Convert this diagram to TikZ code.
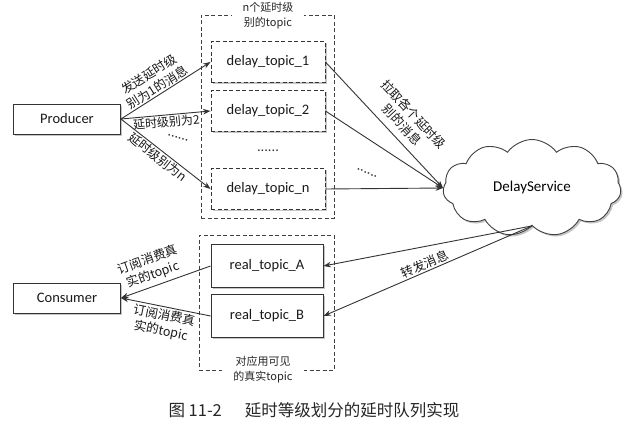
\documentclass[tikz,border=0pt]{standalone}
\usepackage{fontspec}
\setmainfont{Carlito}
\newfontfamily\cjk{Noto Sans CJK SC}
\usetikzlibrary{arrows.meta,shapes.symbols,shadows}

\tikzstyle{plainbox}   = [rectangle, draw=black!80, line width=0.9pt, fill=white, text=black!90, font=\fontsize{14.5}{16}\selectfont, drop shadow={shadow xshift=1.8pt, shadow yshift=-1.8pt, opacity=0.45}]
\tikzstyle{clientbox}  = [plainbox, minimum width=107pt, minimum height=30pt]
\tikzstyle{delaytopic} = [plainbox, dash pattern=on 4pt off 2.5pt, minimum width=114pt, minimum height=41pt]
\tikzstyle{realtopic}  = [plainbox, minimum width=112pt, minimum height=43pt]
\tikzstyle{topicgroup} = [rectangle, draw=black!75, line width=0.8pt, dash pattern=on 4pt off 2.5pt]
\tikzstyle{grouptitle} = [fill=white, align=center, inner xsep=11pt, inner ysep=1pt, text=black!85, font=\cjk\fontsize{11}{15}\selectfont]
\tikzstyle{msglabel}   = [sloped, align=center, inner sep=1pt, text=black!90, font=\cjk\fontsize{12.5}{15.5}\selectfont]
\tikzstyle{dotsmark}   = [inner sep=0pt, text=black!80, font=\fontsize{14.5}{16}\selectfont]
\tikzstyle{service}    = [cloud, cloud puffs=11, cloud puff arc=110, aspect=1.9, minimum width=178pt, minimum height=97pt, draw=black!75, line width=0.9pt, fill=white, font=\fontsize{15}{17}\selectfont, drop shadow={shadow xshift=1.8pt, shadow yshift=-1.8pt, opacity=0.45}]
\tikzstyle{link}       = [draw=black!80, line width=0.9pt, ->]

\begin{document}
\begin{tikzpicture}[x=1pt, y=1pt, node distance=49pt, >={Stealth[length=7.5pt,width=5.5pt]}]
        \useasboundingbox[fill=white] (0,0) rectangle (642,-425);
        \node (delaygroup) [topicgroup, minimum width=133pt, minimum height=203pt] at (267.5,-116.5) {};
        \node (realgroup)  [topicgroup, minimum width=135pt, minimum height=135pt] at (266.5,-302.5) {};
        \node (delaytitle) [grouptitle] at (268,-16)                        {n个延时级\\别的topic};
        \node (realtitle)  [grouptitle] at (263,-370)                       {对应用可见\\的真实topic};
        \node (producer)   [clientbox] at (67,-119)                         {Producer};
        \node (consumer)   [clientbox, below of=producer, node distance=179pt] {Consumer};
        \node (topic1)     [delaytopic] at (268,-62)                        {delay\_topic\_1};
        \node (topic2)     [delaytopic, below of=topic1]                    {delay\_topic\_2};
        \node (topicdots)  [dotsmark, below of=topic2, node distance=40pt]  {......};
        \node (topicn)     [delaytopic, below of=topicdots, node distance=38pt] {delay\_topic\_n};
        \node (realA)      [realtopic] at (267,-266)                        {real\_topic\_A};
        \node (realB)      [realtopic, below of=realA, node distance=50pt]  {real\_topic\_B};
        \node (delaysvc)   [service] at (532,-188)                          {DelayService};
        \node (senddots)   [dotsmark, rotate=-18] at (178,-138)             {......};
        \node (pulldots)   [dotsmark, rotate=-22] at (367,-173)             {......};
        \node (caption)    [text=black!85, font=\cjk\fontsize{16.5}{18}\selectfont] at (314,-410) {图 11-2\hspace{1.4em}延时等级划分的延时队列实现};
        \draw[link] (producer.east) -- node[msglabel, above, pos=0.45] {发送延时级\\别为1的消息} (topic1.west);
        \draw[link] (producer.east) -- node[msglabel, below, pos=0.5, font=\cjk\fontsize{12}{14}\selectfont] {延时级别为2} (topic2.west);
        \draw[link] (producer.east) -- node[msglabel, below, pos=0.46] {延时级别为n} (topicn.west);
        \draw[link] (topic1.east)   -- node[msglabel, above=6pt, pos=0.57] {拉取各个延时级\\别的消息} (delaysvc.west);
        \draw[link] (topic2.east)   -- (delaysvc.west);
        \draw[link] (topicn.east)   -- (delaysvc.west);
        \draw[link] (delaysvc.south) -- (realA.east);
        \draw[link] (delaysvc.south) -- node[msglabel, above, pos=0.5] {转发消息} (realB.east);
        \draw[link] (realA.west)    -- node[msglabel, above=3pt, pos=0.6] {订阅消费真\\实的topic} (consumer.east);
        \draw[link] (realB.west)    -- node[msglabel, below=1pt, pos=0.5] {订阅消费真\\实的topic} (consumer.east);
    \end{tikzpicture}
\end{document}
